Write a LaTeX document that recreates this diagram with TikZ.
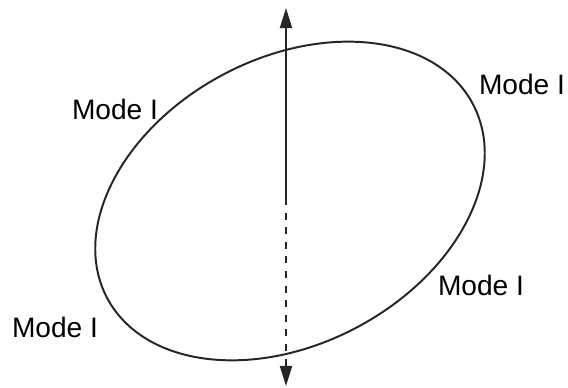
\documentclass[tikz,border=0pt]{standalone}
\usepackage{fontspec}
\setmainfont{Liberation Sans}
\usetikzlibrary{arrows.meta}

\begin{document}
\begin{tikzpicture}[
    x=0.025cm, y=0.025cm,
    font=\fontsize{20}{24}\selectfont,
    label/.style={
        inner sep=0pt,
        anchor=center
    },
    curve/.style={
        line width=1.4pt,
        draw=black!85
    },
    axis/.style={
        line width=1.4pt,
        draw=black!85
    },
    tip/.style={-{Triangle[length=0.5cm,width=0.3cm]}}
]
\useasboundingbox (0,0) rectangle (568,388);

% ellipse
\draw[curve, rotate around={28:(290,187)}] (290,187) ellipse [x radius=207, y radius=143];

% axis
\coordinate (top) at (286,380);
\coordinate (mid) at (286,190);
\coordinate (bot) at (286,2);
\draw[axis, tip] (mid) -- (top);
\draw[axis, tip, dash pattern=on 0.175cm off 0.19cm] (mid) -- (bot);

% labels
\node[label] (ul) at (115,279) {Mode I};
\node[label] (ur) at (522,304) {Mode I};
\node[label] (lr) at (481,103) {Mode I};
\node[label] (ll) at (55,61) {Mode I};

\end{tikzpicture}
\end{document}
